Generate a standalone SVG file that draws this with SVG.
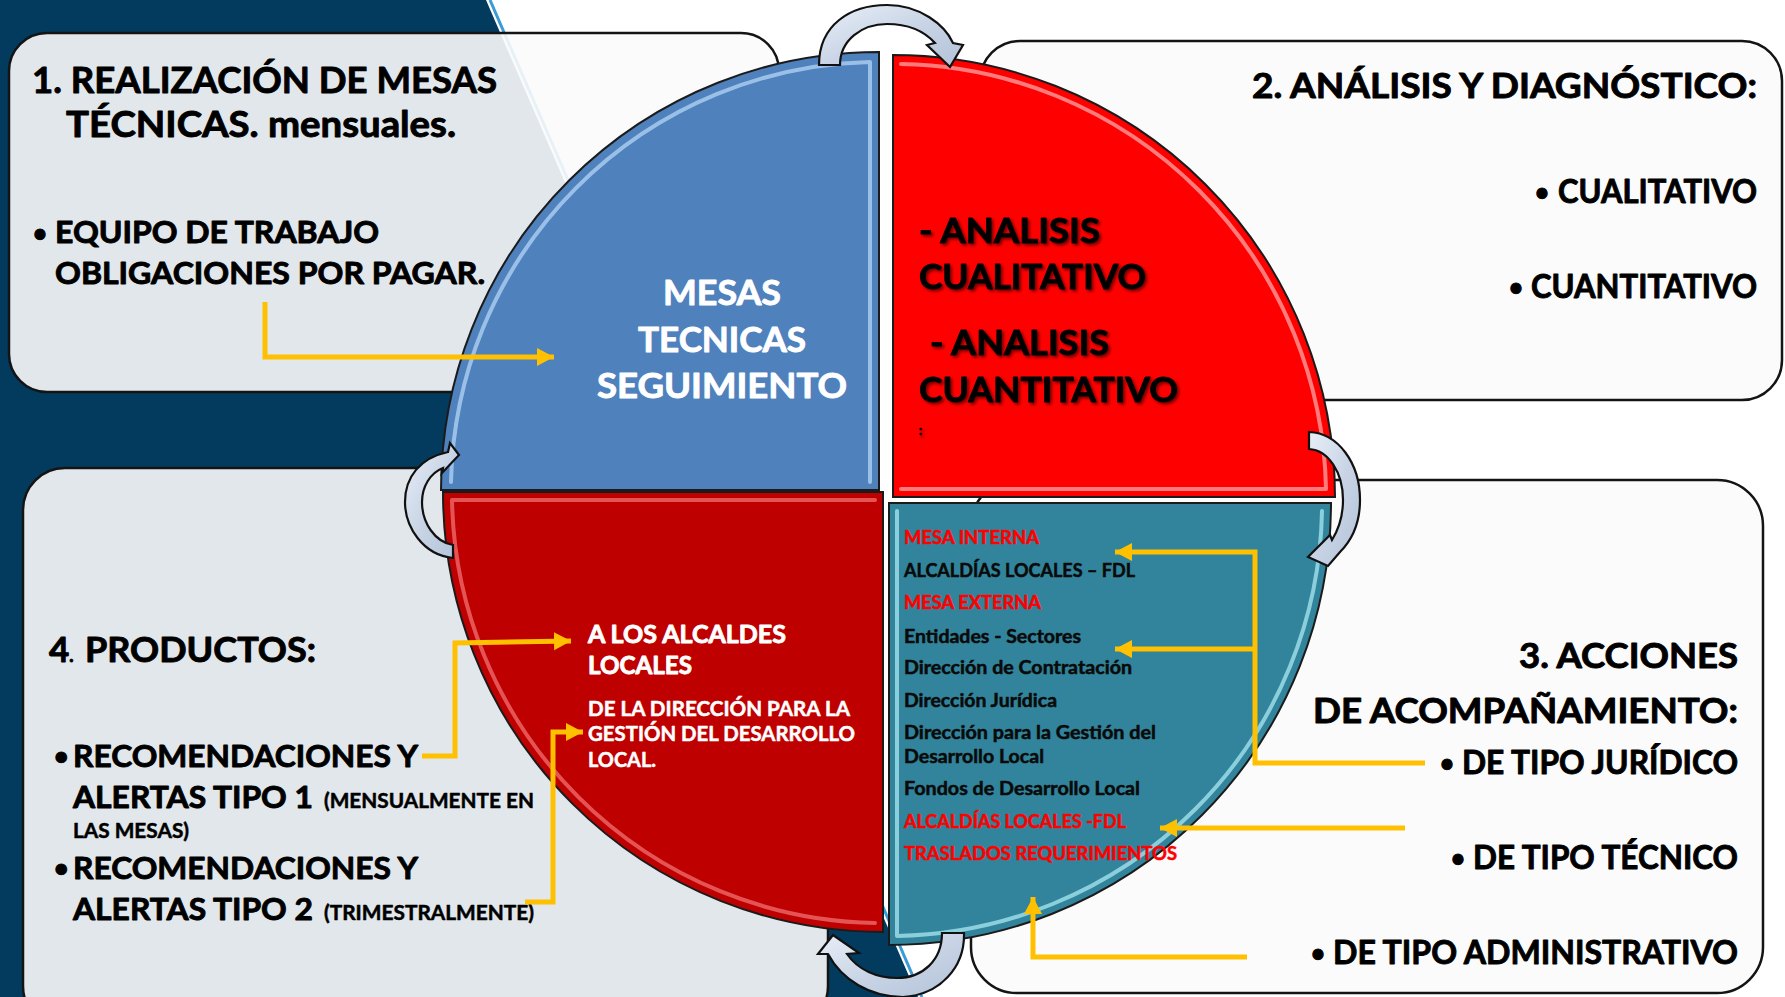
<svg xmlns="http://www.w3.org/2000/svg" width="1785" height="997" viewBox="0 0 1785 997">
<defs>
<style>
.t{font-family:Lato,"Liberation Sans","DejaVu Sans",sans-serif;font-weight:bold;stroke-width:0.9;stroke-linejoin:round;}
.s{stroke-width:0.5;}
.k{fill:#000;stroke:#000;}
.w{fill:#fff;stroke:#fff;}
.r{fill:#ff0000;stroke:#ff0000;}
.d{fill:#0a0a0a;stroke:#0a0a0a;}
.box{fill:#fbfbfb;fill-opacity:0.9;stroke:#141414;stroke-width:2.5;}
.quad{stroke:#1b1b1b;stroke-width:2;}
.hl{fill:none;stroke-width:4;stroke-linecap:round;stroke-linejoin:round;}
.carrow{fill:url(#ag);stroke:#111;stroke-width:2.2;stroke-linejoin:miter;}
.conn{fill:none;stroke:#ffc000;stroke-width:5;}
</style>
<linearGradient id="ag" x1="0" y1="0" x2="1" y2="1">
<stop offset="0" stop-color="#e9eff7"/>
<stop offset="0.5" stop-color="#c9d5e6"/>
<stop offset="1" stop-color="#b3c2d8"/>
</linearGradient>
<filter id="sh" x="-10%" y="-10%" width="130%" height="140%">
<feDropShadow dx="2" dy="2" stdDeviation="1.5" flood-color="#000" flood-opacity="0.55"/>
</filter>
<marker id="ah" markerUnits="userSpaceOnUse" markerWidth="20" markerHeight="20" refX="17" refY="9" orient="auto" viewBox="0 0 20 20">
<path d="M0,0 L17,9 L0,18 Z" fill="#ffc000"/>
</marker>
</defs>

<!-- background -->
<rect x="0" y="0" width="1785" height="997" fill="#ffffff"/>
<polygon points="0,0 486,0 918,997 0,997" fill="#023b5e"/>
<line x1="490" y1="0" x2="922" y2="997" stroke="#3a9bd6" stroke-width="3"/>

<!-- boxes -->
<g id="box1">
<rect class="box" x="9" y="33" width="770" height="359" rx="38"/>
<text class="t k" x="32" y="93" font-size="36" textLength="465" lengthAdjust="spacingAndGlyphs">1. REALIZACIÓN DE MESAS</text>
<text class="t k" x="66" y="137" font-size="36" textLength="390" lengthAdjust="spacingAndGlyphs">TÉCNICAS. mensuales.</text>
<text class="t k" x="33" y="242" font-size="24">•</text>
<text class="t k" x="55" y="243" font-size="30" textLength="324" lengthAdjust="spacingAndGlyphs">EQUIPO DE TRABAJO</text>
<text class="t k" x="55" y="284" font-size="30" textLength="430" lengthAdjust="spacingAndGlyphs">OBLIGACIONES POR PAGAR.</text>
</g>

<g id="box2">
<rect class="box" x="980" y="41" width="802" height="359" rx="40"/>
<text class="t k" x="1252" y="98" font-size="34" textLength="505" lengthAdjust="spacingAndGlyphs">2. ANÁLISIS Y DIAGNÓSTICO:</text>
<text class="t k" x="1535" y="201" font-size="24">•</text>
<text class="t k" x="1558" y="203" font-size="32" textLength="199" lengthAdjust="spacingAndGlyphs">CUALITATIVO</text>
<text class="t k" x="1509" y="296" font-size="24">•</text>
<text class="t k" x="1531" y="298" font-size="32" textLength="226" lengthAdjust="spacingAndGlyphs">CUANTITATIVO</text>
</g>

<g id="box4">
<rect class="box" x="23" y="468" width="805" height="560" rx="42"/>
<text class="t k" x="49" y="662" font-size="35">4<tspan font-size="18">.</tspan></text>
<text class="t k" x="85" y="662" font-size="35" textLength="231" lengthAdjust="spacingAndGlyphs">PRODUCTOS:</text>
<text class="t k" x="54" y="765" font-size="25">•</text>
<text class="t k" x="73" y="767" font-size="31" textLength="345" lengthAdjust="spacingAndGlyphs">RECOMENDACIONES Y</text>
<text class="t k" x="73" y="808" font-size="31" textLength="240" lengthAdjust="spacingAndGlyphs">ALERTAS TIPO 1</text>
<text class="t k s" x="324" y="808" font-size="20" textLength="210" lengthAdjust="spacingAndGlyphs">(MENSUALMENTE EN</text>
<text class="t k s" x="73" y="838" font-size="20" textLength="116" lengthAdjust="spacingAndGlyphs">LAS MESAS)</text>
<text class="t k" x="54" y="877" font-size="25">•</text>
<text class="t k" x="73" y="879" font-size="31" textLength="345" lengthAdjust="spacingAndGlyphs">RECOMENDACIONES Y</text>
<text class="t k" x="73" y="920" font-size="31" textLength="240" lengthAdjust="spacingAndGlyphs">ALERTAS TIPO 2</text>
<text class="t k s" x="324" y="920" font-size="20" textLength="210" lengthAdjust="spacingAndGlyphs">(TRIMESTRALMENTE)</text>
</g>

<g id="box3">
<rect class="box" x="971" y="480" width="792" height="513" rx="46"/>
<text class="t k" x="1519" y="668" font-size="34" textLength="219" lengthAdjust="spacingAndGlyphs">3. ACCIONES</text>
<text class="t k" x="1313" y="723" font-size="34" textLength="425" lengthAdjust="spacingAndGlyphs">DE ACOMPAÑAMIENTO:</text>
<text class="t k" x="1440" y="772" font-size="24">•</text>
<text class="t k" x="1462" y="774" font-size="32" textLength="276" lengthAdjust="spacingAndGlyphs">DE TIPO JURÍDICO</text>
<text class="t k" x="1451" y="867" font-size="24">•</text>
<text class="t k" x="1473" y="869" font-size="32" textLength="265" lengthAdjust="spacingAndGlyphs">DE TIPO TÉCNICO</text>
<text class="t k" x="1311" y="962" font-size="24">•</text>
<text class="t k" x="1333" y="964" font-size="32" textLength="405" lengthAdjust="spacingAndGlyphs">DE TIPO ADMINISTRATIVO</text>
</g>

<!-- quadrants -->
<g id="q-mesas">
<path class="quad" d="M879,490 L441,490 A438,438 0 0 1 879,52 Z" fill="#4f81bd"/>
<path class="hl" d="M451,482 A429,429 0 0 1 870,62 L870,482" stroke="#b4d6f6" stroke-opacity="0.75"/>
<text class="t w" x="663" y="305" font-size="35" textLength="118" lengthAdjust="spacingAndGlyphs">MESAS</text>
<text class="t w" x="638" y="352" font-size="35" textLength="168" lengthAdjust="spacingAndGlyphs">TECNICAS</text>
<text class="t w" x="597" y="398" font-size="35" textLength="250" lengthAdjust="spacingAndGlyphs">SEGUIMIENTO</text>
</g>

<g id="q-analisis">
<path class="quad" d="M893,497 L893,55 A442,442 0 0 1 1335,497 Z" fill="#ff0000"/>
<path class="hl" d="M901,64 A433,433 0 0 1 1326,489 L901,489" stroke="#ffb0b0" stroke-opacity="0.7"/>
<g filter="url(#sh)">
<text class="t k" x="919" y="243" font-size="35" textLength="181" lengthAdjust="spacingAndGlyphs">- ANALISIS</text>
<text class="t k" x="919" y="289" font-size="35" textLength="227" lengthAdjust="spacingAndGlyphs">CUALITATIVO</text>
<text class="t k" x="930" y="355" font-size="35" textLength="179" lengthAdjust="spacingAndGlyphs">- ANALISIS</text>
<text class="t k" x="919" y="402" font-size="35" textLength="259" lengthAdjust="spacingAndGlyphs">CUANTITATIVO</text>
<text class="t k s" x="919" y="435" font-size="14">:</text>
</g>
</g>

<g id="q-acciones">
<path class="quad" d="M889,503 L1331,503 A442,442 0 0 1 889,945 Z" fill="#31849b"/>
<path class="hl" d="M897,511 L897,936 A433,433 0 0 0 1322,511" stroke="#b2f0fa" stroke-opacity="0.7"/>
<text class="t r s" x="904" y="544" font-size="18" textLength="135" lengthAdjust="spacingAndGlyphs">MESA INTERNA</text>
<text class="t d s" x="904" y="577" font-size="18" textLength="231" lengthAdjust="spacingAndGlyphs">ALCALDÍAS LOCALES – FDL</text>
<text class="t r s" x="904" y="609" font-size="18" textLength="137" lengthAdjust="spacingAndGlyphs">MESA EXTERNA</text>
<text class="t d s" x="904" y="643" font-size="18" textLength="177" lengthAdjust="spacingAndGlyphs">Entidades - Sectores</text>
<text class="t d s" x="904" y="674" font-size="18" textLength="228" lengthAdjust="spacingAndGlyphs">Dirección de Contratación</text>
<text class="t d s" x="904" y="707" font-size="18" textLength="153" lengthAdjust="spacingAndGlyphs">Dirección Jurídica</text>
<text class="t d s" x="904" y="739" font-size="18" textLength="252" lengthAdjust="spacingAndGlyphs">Dirección para la Gestión del</text>
<text class="t d s" x="904" y="763" font-size="18" textLength="140" lengthAdjust="spacingAndGlyphs">Desarrollo Local</text>
<text class="t d s" x="904" y="795" font-size="18" textLength="236" lengthAdjust="spacingAndGlyphs">Fondos de Desarrollo Local</text>
<text class="t r s" x="904" y="828" font-size="18" textLength="222" lengthAdjust="spacingAndGlyphs">ALCALDÍAS LOCALES -FDL</text>
<text class="t r s" x="904" y="860" font-size="18" textLength="273" lengthAdjust="spacingAndGlyphs">TRASLADOS REQUERIMIENTOS</text>
</g>

<g id="q-productos">
<path class="quad" d="M883,492 L883,932 A440,440 0 0 1 443,492 Z" fill="#bf0000"/>
<path class="hl" d="M875,500 L452,500 A431,431 0 0 0 875,923" stroke="#ff8c8c" stroke-opacity="0.6"/>
<text class="t w" x="588" y="643" font-size="25" textLength="198" lengthAdjust="spacingAndGlyphs">A LOS ALCALDES</text>
<text class="t w" x="588" y="674" font-size="25" textLength="104" lengthAdjust="spacingAndGlyphs">LOCALES</text>
<text class="t w s" x="588" y="716" font-size="20" textLength="262" lengthAdjust="spacingAndGlyphs">DE LA DIRECCIÓN PARA LA</text>
<text class="t w s" x="588" y="741" font-size="20" textLength="267" lengthAdjust="spacingAndGlyphs">GESTIÓN DEL DESARROLLO</text>
<text class="t w s" x="588" y="767" font-size="20" textLength="68" lengthAdjust="spacingAndGlyphs">LOCAL.</text>
</g>

<!-- cycle arrows -->
<g id="cycle-arrows">
<path class="carrow" d="M819,65 C819,25 850,5 887,5 C920,5 945,25 953,43 L963,45 L950,67 L927,45 L935,43 C925,32 910,24 887,24 C862,24 840,40 840,65 Z"/>
<path class="carrow" d="M1309,432 C1338,433 1360,463 1360,500 C1360,523 1352,540 1340,552 L1328,566 L1308,557 L1330,535 L1332,540 C1340,527 1343,513 1343,500 C1343,472 1328,450 1309,449 Z"/>
<path class="carrow" d="M964,933 C965,967 940,995 903,997 C870,997 842,980 828,954 L818,954 L833,935 L859,953 L847,954 C858,970 877,978 897,978 C923,978 942,960 942,933 Z"/>
<path class="carrow" d="M453,558 C423,555 405,527 405,502 C405,477 420,458 448,452 L450,443 L459,455 L442,473 L443,468 C430,473 422,487 422,502 C422,523 435,542 453,545 Z"/>
</g>

<!-- connectors -->
<g id="connectors">
<path class="conn" d="M265,302 V357 H554" marker-end="url(#ah)"/>
<path class="conn" d="M422,756 H455 V643 L571,641" marker-end="url(#ah)"/>
<path class="conn" d="M525,902 H553 V732 H583" marker-end="url(#ah)"/>
<path class="conn" d="M1425,763 H1255 V552 H1115" marker-end="url(#ah)"/>
<path class="conn" d="M1255,649 H1115" marker-end="url(#ah)"/>
<path class="conn" d="M1405,828 H1160" marker-end="url(#ah)"/>
<path class="conn" d="M1247,957 H1033 V897" marker-end="url(#ah)"/>
</g>
</svg>
